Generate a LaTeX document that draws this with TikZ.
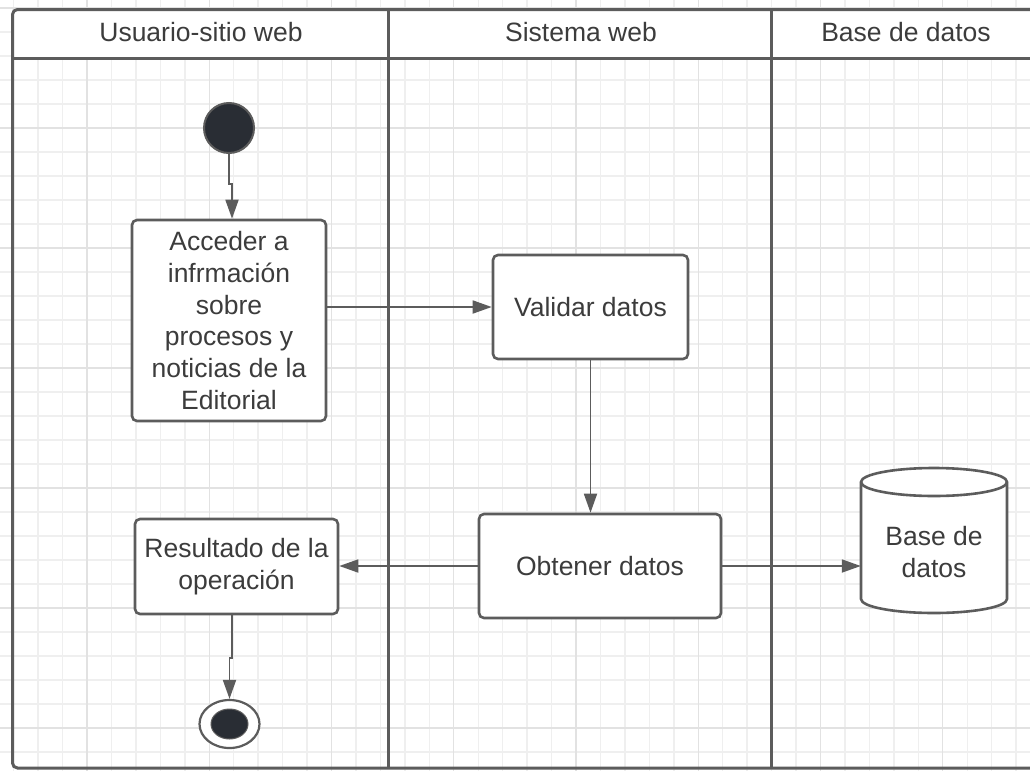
\documentclass[tikz,border=0pt]{standalone}
\usepackage{fontspec}
\setmainfont{Liberation Sans}
\usetikzlibrary{arrows.meta,shapes.geometric}
\definecolor{ln}{HTML}{5C5C5C}
\definecolor{tx}{HTML}{3C3C3C}
\definecolor{gm}{HTML}{EFEFEF}
\definecolor{gM}{HTML}{E2E2E2}
\definecolor{dk}{HTML}{292D34}
\begin{document}
\begin{tikzpicture}[x=1pt,y=-1pt]
\tikzstyle{ac} = [draw=ln,line width=2.6pt,rounded corners=5pt,fill=white,text=tx,align=center,inner sep=0pt,font=\fontsize{26.5pt}{31.8pt}\selectfont] %activity
\tikzstyle{tl} = [text=tx,align=center,font=\fontsize{26.5pt}{31.8pt}\selectfont] %text label
\tikzstyle{de} = [-{Triangle[length=19pt,width=13pt]},draw=ln,line width=1.8pt] %directed edge
\tikzstyle{pl} = [draw=ln,line width=3pt] %pool line
\tikzstyle{cy} = [draw=ln,line width=2.6pt] %cylinder
\useasboundingbox (0,0) rectangle (1030,771);
\clip (0,0) rectangle (1030,771);
\fill[white] (0,0) rectangle (1030,771);
% grid
\foreach \i in {0,...,42} \draw[gm,line width=1.4pt] ({13.65+24.45*\i},0) -- ++(0,771);
\foreach \j in {0,...,32} \draw[gm,line width=1.4pt] (0,{8+24*\j}) -- ++(1030,0);
\foreach \i in {3,8,...,38} \draw[gM,line width=1.4pt] ({13.65+24.45*\i},0) -- ++(0,771);
\foreach \j in {0,5,...,30} \draw[gM,line width=1.4pt] (0,{8+24*\j}) -- ++(1030,0);
% pool and lanes
\fill[white,rounded corners=5pt] (12.5,9.5) rectangle (1041,58);
\draw[pl,rounded corners=5pt] (12.5,9.5) rectangle (1041,768);
\draw[pl] (12.5,58)--(1041,58);
\draw[pl] (388.5,9.5)--(388.5,768);
\draw[pl] (771,9.5)--(771,768);
\node[tl](h1)at(201,32){Usuario-sitio web};
\node[tl](h2)at(581,32){Sistema web};
\node[tl](h3)at(906,32){Base de datos};
% activities
\node[circle,draw=ln,line width=2pt,fill=dk,minimum size=50pt,inner sep=0pt](ini)at(229,128){};
\node[ac,minimum width=194pt,minimum height=201pt](acc)at(229,320.5){Acceder a\\infrmación\\sobre\\procesos y\\noticias de la\\Editorial};
\node[ac,minimum width=195pt,minimum height=104pt](val)at(590.5,307){Validar datos};
\node[ac,minimum width=242pt,minimum height=104pt](obt)at(600,566){Obtener datos};
\node[ac,minimum width=203pt,minimum height=95pt](res)at(236.5,566.5){Resultado de la\\operación};
\filldraw[cy,fill=white](861,482)--(861,599)arc[start angle=180,end angle=0,x radius=73,y radius=14]--(1007,482)arc[start angle=0,end angle=-180,x radius=73,y radius=14]--cycle;
\draw[cy](861,482)arc[start angle=180,end angle=0,x radius=73,y radius=14];
\node[minimum width=146pt,minimum height=145pt,inner sep=0pt](bd)at(934,540.5){};
\node[tl](bdt)at(934,552){Base de\\datos};
\node[ellipse,draw=ln,line width=2.2pt,fill=white,minimum width=60pt,minimum height=48pt,inner sep=0pt](fin)at(229.5,724){};
\filldraw[draw=ln,line width=1pt,fill=dk](fin.center) ellipse[x radius=18.5,y radius=15];
% flows
\draw[de](ini.south)--++(0,30)-|([xshift=3pt]acc.north);
\draw[de](acc.east|-val.west)--(val.west);
\draw[de](val.south)--(val.south|-obt.north);
\draw[de](obt.west)--(obt.west-|res.east);
\draw[de](obt.east)--(obt.east-|bd.west);
\draw[de]([xshift=-4.5pt]res.south)--++(0,43)-|(fin.north);
\end{tikzpicture}
\end{document}
